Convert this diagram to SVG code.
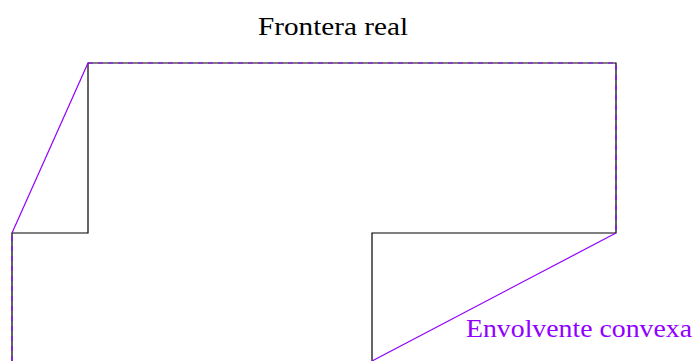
<svg xmlns="http://www.w3.org/2000/svg" width="694" height="361" viewBox="0 0 694 361">
<style>
.real{fill:none;stroke:#000;stroke-width:1.2;stroke-linejoin:miter}
.hull{fill:none;stroke:#9000ff;stroke-width:1.2}
.dash{stroke-dasharray:5 5}
.lbl{font-family:"Liberation Serif",serif;font-size:25px}
</style>
<rect width="694" height="361" fill="#fff"/>
<g id="frontera-real">
<polyline class="real" points="12,361 12,233 88,233 88,63 616,63 616,233 372,233 372,361"/>
</g>
<g id="connectors">
<polyline class="hull dash" points="12,361 12,233"/>
<line class="hull" x1="12" y1="233" x2="88" y2="63"/>
<polyline class="hull dash" points="88,63 616,63 616,233"/>
<line class="hull" x1="616" y1="233" x2="372" y2="361"/>
</g>
<g id="labels">
<text class="lbl" x="258" y="35" textLength="150" lengthAdjust="spacingAndGlyphs" fill="#000">Frontera real</text>
<text class="lbl" x="466" y="337" textLength="226" lengthAdjust="spacingAndGlyphs" fill="#9000ff">Envolvente convexa</text>
</g>
</svg>
